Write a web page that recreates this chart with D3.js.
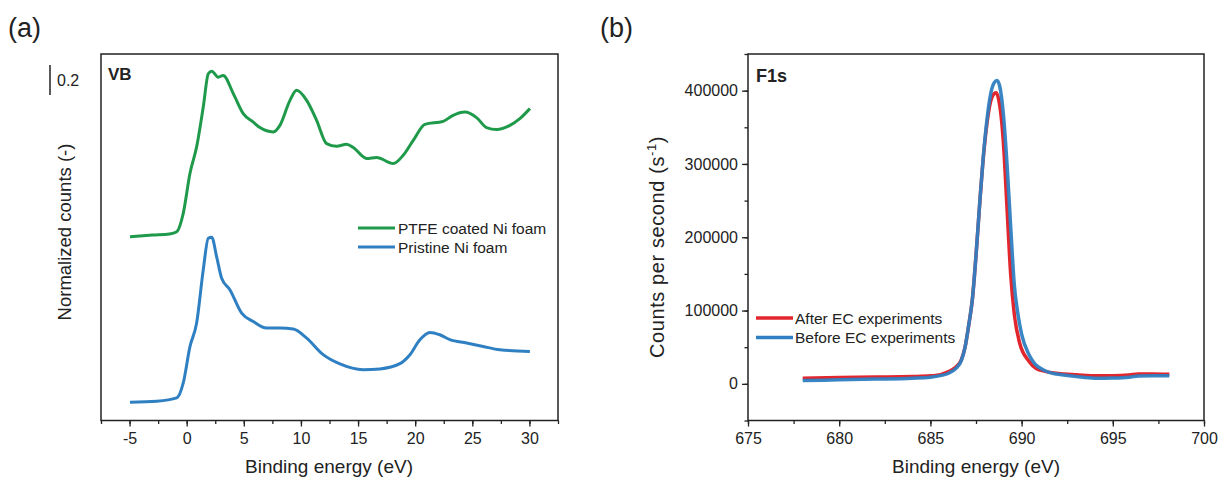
<!DOCTYPE html>
<html>
<head>
<meta charset="utf-8">
<script src="https://cdn.jsdelivr.net/npm/d3@7"></script>
<style>
  body { margin: 0; background: #fff; }
  svg text { font-family: "Liberation Sans", Arimo, Arial, Helvetica, sans-serif; fill: #222; }
</style>
</head>
<body>
<script>
// (a) valence band spectra, normalized counts
const vbEnergy = [-4.96, -3, -1.5, -0.87, -0.30, 0.29, 0.87, 1.45, 1.89, 2.19, 2.76, 3.20, 4.08, 4.95, 5.83, 6.41, 7.58, 8.16, 9.04, 9.62, 10.50, 11.37, 12.25, 13.12, 14.0, 14.58, 15.75, 16.62, 18.08, 18.95, 19.83, 20.85, 22.45, 23.32, 24.35, 25.37, 26.25, 27.12, 28.29, 29.16, 30.04];
const ptfeCounts = [1.109, 1.12, 1.127, 1.142, 1.265, 1.533, 1.709, 1.975, 2.198, 2.215, 2.175, 2.187, 2.065, 1.931, 1.875, 1.838, 1.809, 1.853, 2.02, 2.087, 2.02, 1.887, 1.731, 1.713, 1.727, 1.705, 1.631, 1.638, 1.598, 1.653, 1.753, 1.86, 1.88, 1.92, 1.942, 1.905, 1.838, 1.825, 1.853, 1.898, 1.965];
const pristineEnergy = [-4.96, -2.62, -0.87, -0.30, 0.29, 0.87, 1.45, 1.89, 2.19, 2.62, 3.06, 3.79, 4.81, 5.83, 7.0, 8.16, 9.33, 10.50, 11.95, 13.41, 15.45, 16.91, 18.66, 19.54, 20.41, 21.29, 22.16, 23.04, 24.5, 25.95, 27.41, 30.04];
const pristineCounts = [0.002, 0.009, 0.031, 0.131, 0.375, 0.531, 0.887, 1.098, 1.105, 0.975, 0.831, 0.753, 0.598, 0.542, 0.498, 0.498, 0.491, 0.431, 0.32, 0.258, 0.22, 0.225, 0.26, 0.32, 0.42, 0.469, 0.453, 0.42, 0.398, 0.375, 0.353, 0.342];
const vbTicks = [-5, 0, 5, 10, 15, 20, 25, 30];
const vbLegend = ["PTFE coated Ni foam", "Pristine Ni foam"];

// (b) F1s spectra, counts per second
const beforeEnergy = [678.0, 680.0, 682.0, 684.0, 685.0, 685.6, 686.0, 686.4, 686.7, 686.9, 687.1, 687.3, 687.5, 687.7, 687.9, 688.1, 688.3, 688.5, 688.65, 688.8, 689.0, 689.2, 689.4, 689.6, 689.8, 690.0, 690.4, 690.7, 691.2, 691.6, 692.3, 693.0, 694.0, 695.0, 695.9, 696.4, 697.2, 698.1];
const beforeCounts = [4500, 5500, 6500, 7800, 9100, 11500, 14500, 21000, 32000, 50000, 80000, 115000, 175000, 245000, 310000, 360000, 395000, 411000, 414000, 406000, 368000, 300000, 215000, 135000, 95000, 68000, 40000, 28000, 19000, 15000, 12200, 10000, 7700, 8000, 9100, 10800, 11000, 10900];
const afterEnergy = [678.0, 680.0, 682.0, 684.0, 685.0, 685.6, 686.0, 686.4, 686.7, 686.9, 687.1, 687.3, 687.5, 687.7, 687.9, 688.1, 688.3, 688.5, 688.6, 688.75, 689.0, 689.2, 689.4, 689.6, 689.9, 690.4, 690.8, 691.3, 692.3, 693.0, 694.1, 695.0, 695.9, 696.4, 697.2, 698.1];
const afterCounts = [7700, 8500, 9200, 10000, 10900, 13000, 16700, 23000, 33000, 50000, 80000, 115000, 175000, 245000, 308000, 355000, 385000, 396000, 397000, 387000, 330000, 240000, 150000, 95000, 55000, 31000, 21000, 17000, 13600, 12500, 10900, 11000, 12200, 13600, 13300, 13000];
const f1sXTicks = [675, 680, 685, 690, 695, 700];
const f1sYTicks = [0, 100000, 200000, 300000, 400000];
const f1sLegend = ["After EC experiments", "Before EC experiments"];

const green = "#1f9a4b", blue = "#2f80c2", red = "#e2262d";
const font = "'Liberation Sans', Arimo, Arial, Helvetica, sans-serif";

const svg = d3.select("body").append("svg")
  .attr("width", 1220).attr("height", 480)
  .attr("font-family", font);

function frame(g, x, y) {
  const [x0, x1] = x.range(), [y0, y1] = y.range();
  g.append("rect")
    .attr("x", x0).attr("y", y1)
    .attr("width", x1 - x0).attr("height", y0 - y1)
    .attr("fill", "none").attr("stroke", "#222").attr("stroke-width", 1.5);
}

function bottomAxis(g, x, ticks, minor) {
  const y0 = 420.5;
  g.append("g").attr("transform", `translate(0,${y0})`)
    .call(d3.axisBottom(x).tickValues(minor).tickSize(3.5).tickFormat(""))
    .call(a => a.select(".domain").remove());
  g.append("g").attr("transform", `translate(0,${y0})`)
    .call(d3.axisBottom(x).tickValues(ticks).tickSize(6).tickPadding(6).tickFormat(d => String(d)))
    .call(a => a.select(".domain").remove())
    .call(a => a.attr("font-family", font).selectAll("text").attr("font-size", 16));
  g.selectAll(".tick line").attr("stroke", "#222").attr("stroke-width", 1.3);
}

// ---------- panel (a) ----------
const xA = d3.scaleLinear().domain([-7.5, 32.5]).range([101, 558]);
const yA = d3.scaleLinear().domain([-0.12, 2.33]).range([420.5, 54]);
const gA = svg.append("g");

const lineA = d3.line().curve(d3.curveMonotoneX)
  .x(d => xA(d[0])).y(d => yA(d[1]));

gA.append("path")
  .datum(d3.zip(vbEnergy, ptfeCounts))
  .attr("d", lineA).attr("fill", "none")
  .attr("stroke", green).attr("stroke-width", 3).attr("stroke-linejoin", "round");
gA.append("path")
  .datum(d3.zip(pristineEnergy, pristineCounts))
  .attr("d", lineA).attr("fill", "none")
  .attr("stroke", blue).attr("stroke-width", 3).attr("stroke-linejoin", "round");

frame(gA, xA, yA);
bottomAxis(gA, xA, vbTicks, d3.range(-7.5, 33, 2.5));

gA.append("text").attr("x", 108).attr("y", 80)
  .attr("font-size", 17).attr("font-weight", "bold").text("VB");

// scale bar: 0.2 normalized units
gA.append("line").attr("x1", 50).attr("x2", 50)
  .attr("y1", yA(2.256)).attr("y2", yA(2.256 - 0.2))
  .attr("stroke", "#222").attr("stroke-width", 1.5);
gA.append("text").attr("x", 57).attr("y", 86).attr("font-size", 16).text("0.2");

const legA = gA.append("g").attr("transform", "translate(358,228)");
[green, blue].forEach((c, i) => {
  legA.append("line").attr("x1", 0).attr("x2", 37).attr("y1", i * 19).attr("y2", i * 19)
    .attr("stroke", c).attr("stroke-width", 3);
  legA.append("text").attr("x", 40).attr("y", i * 19 + 5.5)
    .attr("font-size", 15.5).text(vbLegend[i]);
});

gA.append("text").attr("x", 329).attr("y", 473).attr("text-anchor", "middle")
  .attr("font-size", 19).text("Binding energy (eV)");
gA.append("text").attr("transform", "translate(71,232) rotate(-90)")
  .attr("text-anchor", "middle").attr("font-size", 18.5).text("Normalized counts (-)");
gA.append("text").attr("x", 8).attr("y", 37).attr("font-size", 27)
  .attr("font-family", "'Open Sans', sans-serif").text("(a)");

// ---------- panel (b) ----------
const xB = d3.scaleLinear().domain([675, 700]).range([748, 1204]);
const yB = d3.scaleLinear().domain([-50000, 450000]).range([420.5, 54]);
const gB = svg.append("g");

const lineB = d3.line().curve(d3.curveMonotoneX)
  .x(d => xB(d[0])).y(d => yB(d[1]));

gB.append("path")
  .datum(d3.zip(afterEnergy, afterCounts))
  .attr("d", lineB).attr("fill", "none")
  .attr("stroke", red).attr("stroke-width", 3.5);
gB.append("path")
  .datum(d3.zip(beforeEnergy, beforeCounts))
  .attr("d", lineB).attr("fill", "none")
  .attr("stroke", blue).attr("stroke-width", 3.5).attr("stroke-opacity", 0.95);

frame(gB, xB, yB);
bottomAxis(gB, xB, f1sXTicks, d3.range(675, 701, 2.5));

gB.append("g").attr("transform", "translate(748,0)")
  .call(d3.axisLeft(yB).tickValues(d3.range(-50000, 450001, 50000)).tickSize(3.5).tickFormat(""))
  .call(a => a.select(".domain").remove());
gB.append("g").attr("transform", "translate(748,0)")
  .call(d3.axisLeft(yB).tickValues(f1sYTicks).tickSize(6).tickPadding(4).tickFormat(d => String(d)))
  .call(a => a.select(".domain").remove())
  .call(a => a.attr("font-family", font).selectAll("text").attr("font-size", 16));
gB.selectAll(".tick line").attr("stroke", "#222").attr("stroke-width", 1.3);

gB.append("text").attr("x", 756).attr("y", 82)
  .attr("font-size", 18).attr("font-weight", "bold").text("F1s");

const legB = gB.append("g").attr("transform", "translate(756,318)");
[red, blue].forEach((c, i) => {
  legB.append("line").attr("x1", 0).attr("x2", 37).attr("y1", i * 19.5).attr("y2", i * 19.5)
    .attr("stroke", c).attr("stroke-width", 3.5);
  legB.append("text").attr("x", 39).attr("y", i * 19.5 + 5.5)
    .attr("font-size", 15.5).text(f1sLegend[i]);
});

gB.append("text").attr("x", 976).attr("y", 473).attr("text-anchor", "middle")
  .attr("font-size", 19).text("Binding energy (eV)");
const yl = gB.append("text").attr("transform", "translate(664,247) rotate(-90)")
  .attr("text-anchor", "middle").attr("font-size", 20).attr("letter-spacing", 0.6);
yl.append("tspan").text("Counts per second (s");
yl.append("tspan").attr("dy", -8).attr("font-size", 13).text("-1");
yl.append("tspan").attr("dy", 8).text(")");
gB.append("text").attr("x", 600).attr("y", 37).attr("font-size", 27)
  .attr("font-family", "'Open Sans', sans-serif").text("(b)");
</script>
</body>
</html>
